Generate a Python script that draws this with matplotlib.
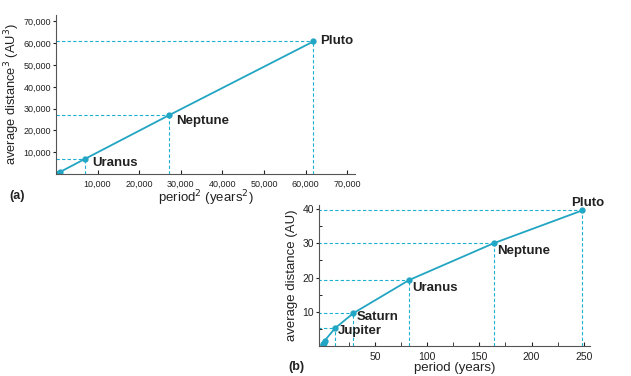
import matplotlib
matplotlib.use("Agg")
import matplotlib.pyplot as plt
from matplotlib.ticker import MultipleLocator, FuncFormatter

plt.rcParams['font.family'] = ['Liberation Sans', 'DejaVu Sans']

# planet data (periods in years, distances in AU)
names = ["Mercury", "Venus", "Earth", "Mars", "Jupiter", "Saturn", "Uranus", "Neptune", "Pluto"]
period = [0.24, 0.62, 1.0, 1.88, 11.9, 29.5, 83.0, 164.0, 248.5]
distance = [0.39, 0.72, 1.0, 1.52, 5.2, 9.6, 19.3, 30.05, 39.6]

# panel (a) values: period^2 and distance^3
period_sq = [0.06, 0.38, 1.0, 3.5, 141, 870, 7100, 27100, 61900]
distance_cu = [0.06, 0.37, 1.0, 3.5, 141, 860, 7080, 26900, 60800]

labels_a = ["Uranus", "Neptune", "Pluto"]
labels_b = ["Jupiter", "Saturn", "Uranus", "Neptune", "Pluto"]

teal = "#22a5c2"
txt = "#222222"
dash = (0, (3, 2))

fig = plt.figure(figsize=(6.31, 3.76), dpi=100)
ax1 = fig.add_axes([0.0887, 0.537, 0.4739, 0.423])
ax2 = fig.add_axes([0.5055, 0.0798, 0.4295, 0.375])

# ---- panel (a)
ax1.plot(period_sq, distance_cu, color=teal, linewidth=1.3, marker="o", markersize=3.5)
for n, x, y in zip(names, period_sq, distance_cu):
    if n in labels_a:
        ax1.plot([0, x], [y, y], color="#1ab0d0", linestyle=dash, linewidth=0.8)
        ax1.plot([x, x], [0, y], color="#1ab0d0", linestyle=dash, linewidth=0.8)
ax1.text(period_sq[6] + 1700, distance_cu[6] - 1800, "Uranus", fontsize=9.5,
         fontweight="bold", color=txt, va="center")
ax1.text(period_sq[7] + 1700, distance_cu[7] - 2400, "Neptune", fontsize=9.5,
         fontweight="bold", color=txt, va="center")
ax1.text(period_sq[8] + 1700, distance_cu[8] + 200, "Pluto", fontsize=9.5,
         fontweight="bold", color=txt, va="center")

ax1.set_xlim(0, 71900)
ax1.set_ylim(0, 72900)
ticks_a = [10000, 20000, 30000, 40000, 50000, 60000, 70000]
ax1.set_xticks(ticks_a)
ax1.set_yticks(ticks_a)
fmt = FuncFormatter(lambda v, p: f"{int(v):,}")
ax1.xaxis.set_major_formatter(fmt)
ax1.yaxis.set_major_formatter(fmt)
ax1.tick_params(axis="x", direction="in", length=3, labelsize=6.5, colors=txt, pad=4)
ax1.tick_params(axis="y", direction="out", length=2.5, labelsize=6.5, colors=txt, pad=1)
ax1.set_xlabel("period$^2$ (years$^2$)", fontsize=9.5, color=txt, labelpad=0)
ax1.set_ylabel("average distance$^3$ (AU$^3$)", fontsize=9.3, color=txt, labelpad=1)

# ---- panel (b)
ax2.plot(period, distance, color=teal, linewidth=1.3, marker="o", markersize=3.5)
for n, x, y in zip(names, period, distance):
    if n in labels_b:
        ax2.plot([-4, x], [y, y], color="#1ab0d0", linestyle=dash, linewidth=0.8)
        ax2.plot([x, x], [0, y], color="#1ab0d0", linestyle=dash, linewidth=0.8)
ax2.text(period[4] + 2.5, distance[4] - 0.9, "Jupiter", fontsize=9.5,
         fontweight="bold", color=txt, va="center")
ax2.text(period[5] + 3, distance[5] - 1.2, "Saturn", fontsize=9.5,
         fontweight="bold", color=txt, va="center")
ax2.text(period[6] + 3, distance[6] - 2.4, "Uranus", fontsize=9.5,
         fontweight="bold", color=txt, va="center")
ax2.text(period[7] + 3, distance[7] - 2.4, "Neptune", fontsize=9.5,
         fontweight="bold", color=txt, va="center")
ax2.text(period[8] + 5, distance[8] + 2.3, "Pluto", fontsize=9.5,
         fontweight="bold", color=txt, va="center", ha="center")

ax2.set_xlim(-3.5, 256)
ax2.set_ylim(0, 41.2)
ax2.set_xticks([50, 100, 150, 200, 250])
ax2.set_yticks([10, 20, 30, 40])
ax2.xaxis.set_minor_locator(MultipleLocator(25))
ax2.yaxis.set_minor_locator(MultipleLocator(5))
ax2.tick_params(axis="x", which="both", direction="in", length=3, labelsize=7.5, colors=txt, pad=4)
ax2.tick_params(axis="y", which="major", direction="out", length=2.5, labelsize=7.5, colors=txt, pad=1)
ax2.tick_params(axis="y", which="minor", direction="in", length=2.5)
ax2.set_xlabel("period (years)", fontsize=9.5, color=txt, labelpad=0)
ax2.set_ylabel("average distance (AU)", fontsize=9.5, color=txt, labelpad=3)

for ax in (ax1, ax2):
    ax.spines["top"].set_visible(False)
    ax.spines["right"].set_visible(False)
    ax.spines["left"].set_color("#555555")
    ax.spines["bottom"].set_color("#555555")
    ax.spines["left"].set_linewidth(0.8)
    ax.spines["bottom"].set_linewidth(0.8)

fig.text(9 / 631, 1 - 196 / 376, "(a)", fontsize=9, fontweight="bold", color=txt, va="center")
fig.text(288 / 631, 1 - 367 / 376, "(b)", fontsize=9, fontweight="bold", color=txt, va="center")

fig.savefig("out.png", dpi=100)
